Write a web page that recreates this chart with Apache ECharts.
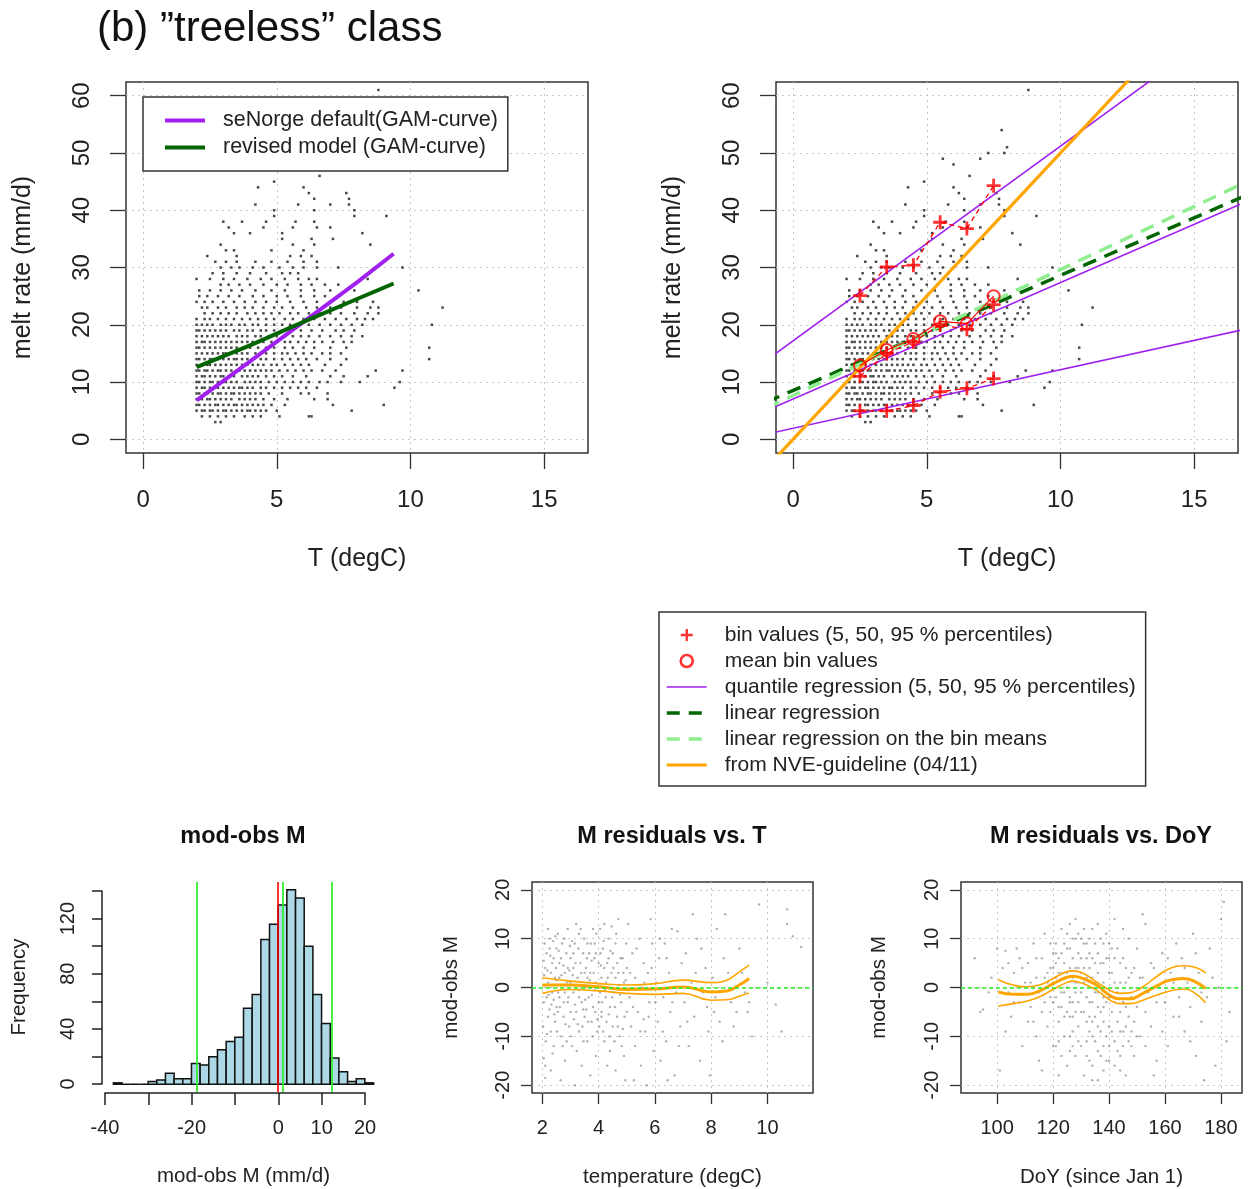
<!DOCTYPE html>
<html>
<head>
<meta charset="utf-8">
<script src="https://cdn.jsdelivr.net/npm/echarts@6/dist/echarts.min.js"></script>
<style>
  html, body { margin: 0; padding: 0; background: #fff; }
  #main { width: 1253px; height: 1189px; }
</style>
</head>
<body>
<div id="main"></div>
<script>
// observed melt rate rows (mm/d) and the temperatures seen in each row
const obsMelt = [3, 4, 5, 6, 7, 8, 9, 10, 11, 12, 13, 14, 15, 16, 17, 18, 19, 20, 21, 22, 23, 24, 25, 26, 27, 28, 29, 30, 31,
  32, 33, 34, 35, 36, 37, 38, 39, 40, 41, 42, 43, 44, 45, 46, 48, 49, 50, 51, 54, 61]
const obsTemp = [
  [2.7, 2.9],
  [2.2, 2.5, 2.8, 3.1, 3.4, 3.8, 4.1, 4.4, 5.1, 6.2, 6.3],
  [2.0, 2.2, 2.3, 2.5, 2.6, 2.8, 3.0, 3.1, 3.3, 3.5, 3.7, 3.9, 4.0, 4.2, 4.4, 4.6, 5.0, 7.8],
  [2.0, 2.1, 2.3, 2.5, 2.7, 2.8, 3.0, 3.2, 3.4, 3.5, 3.7, 3.9, 4.1, 4.3, 4.5, 4.8, 5.3, 7.1, 9.0],
  [2.0, 2.2, 2.4, 2.5, 2.7, 2.9, 3.1, 3.3, 3.6, 3.8, 4.0, 4.2, 4.5, 4.9, 5.4, 6.4, 6.9],
  [2.0, 2.1, 2.3, 2.4, 2.6, 2.8, 2.9, 3.1, 3.3, 3.4, 3.6, 3.8, 4.0, 4.2, 4.4, 4.7, 5.2, 5.9, 6.2, 6.9],
  [2.0, 2.2, 2.3, 2.5, 2.7, 2.8, 3.0, 3.2, 3.4, 3.6, 3.7, 3.9, 4.1, 4.4, 4.6, 4.9, 5.2, 5.5, 5.8, 6.1, 6.5, 9.4],
  [2.0, 2.1, 2.3, 2.5, 2.6, 2.8, 3.0, 3.1, 3.3, 3.5, 3.8, 4.0, 4.2, 4.4, 4.7, 5.0, 5.3, 5.6, 5.9, 6.2, 6.6, 6.9, 7.4, 8.1, 9.6],
  [2.0, 2.2, 2.3, 2.5, 2.7, 2.9, 3.0, 3.2, 3.4, 3.7, 3.9, 4.1, 4.3, 4.6, 4.9, 5.2, 5.6, 6.1, 7.0, 7.5, 8.4],
  [2.0, 2.1, 2.3, 2.4, 2.6, 2.8, 2.9, 3.1, 3.3, 3.5, 3.6, 3.8, 4.0, 4.2, 4.4, 4.6, 4.8, 5.1, 5.4, 5.7, 6.0, 6.3, 6.7, 7.2, 8.7, 9.7],
  [2.0, 2.2, 2.4, 2.5, 2.7, 2.9, 3.1, 3.3, 3.5, 3.7, 3.9, 4.1, 4.3, 4.5, 4.8, 5.0, 5.3, 5.6, 5.9, 6.2, 6.8, 7.4],
  [2.0, 2.1, 2.3, 2.5, 2.6, 2.8, 3.0, 3.2, 3.4, 3.5, 3.7, 3.9, 4.1, 4.4, 4.6, 4.9, 5.2, 5.5, 5.8, 6.1, 6.5, 7.0, 7.6, 10.7],
  [2.0, 2.2, 2.4, 2.6, 2.8, 3.0, 3.1, 3.3, 3.5, 3.7, 3.9, 4.2, 4.4, 4.6, 4.9, 5.2, 5.4, 5.7, 6.0, 6.3, 6.7, 7.0, 7.4],
  [2.0, 2.1, 2.3, 2.5, 2.7, 2.9, 3.1, 3.3, 3.5, 3.8, 4.0, 4.3, 4.6, 4.9, 5.3, 5.6, 6.0, 6.4, 7.0, 7.6, 10.7],
  [2.0, 2.2, 2.3, 2.5, 2.7, 2.9, 3.1, 3.3, 3.5, 3.7, 3.9, 4.1, 4.3, 4.5, 4.8, 5.0, 5.3, 5.5, 5.8, 6.1, 6.4, 6.7, 7.1, 7.5, 7.8],
  [2.0, 2.2, 2.4, 2.6, 2.8, 3.0, 3.2, 3.5, 3.7, 3.9, 4.2, 4.4, 4.7, 5.0, 5.3, 5.6, 5.9, 6.2, 6.6, 7.0, 7.4, 7.8, 8.2],
  [2.0, 2.1, 2.3, 2.5, 2.7, 2.9, 3.1, 3.4, 3.6, 3.9, 4.1, 4.4, 4.6, 4.9, 5.2, 5.5, 5.9, 6.3, 6.7, 7.2, 7.5, 7.9],
  [2.0, 2.2, 2.4, 2.6, 2.9, 3.1, 3.3, 3.6, 3.8, 4.1, 4.3, 4.6, 4.9, 5.2, 5.5, 5.8, 6.2, 6.6, 7.0, 7.4, 7.8, 8.2, 10.8],
  [2.0, 2.3, 2.5, 2.8, 3.1, 3.4, 3.7, 4.0, 4.3, 4.6, 4.9, 5.3, 5.6, 6.0, 6.4, 6.8, 7.2, 7.6, 8.0, 8.3, 8.6],
  [2.3, 2.6, 2.9, 3.2, 3.5, 3.9, 4.2, 4.5, 4.8, 5.1, 5.5, 5.8, 6.2, 6.6, 7.0, 7.4, 7.9, 8.4, 8.8],
  [2.2, 2.4, 2.8, 3.1, 3.5, 3.8, 4.1, 4.5, 4.9, 5.2, 5.6, 6.1, 6.5, 7.0, 7.4, 8.0, 8.5, 8.8, 11.2],
  [2.0, 2.3, 2.6, 3.0, 3.4, 3.8, 4.2, 4.6, 5.0, 5.5, 6.0, 6.5, 7.0, 7.5, 8.0, 8.6],
  [2.1, 2.4, 2.8, 3.2, 3.6, 4.1, 4.5, 5.0, 5.4, 5.9, 6.4, 6.8, 7.3],
  [2.1, 2.5, 2.9, 3.3, 3.7, 4.2, 4.8, 5.3, 5.9, 6.4, 7.0, 7.9, 10.3],
  [2.9, 3.2, 3.6, 4.0, 4.5, 5.0, 5.4, 5.9, 6.3, 6.8, 7.3],
  [2.0, 2.5, 3.0, 3.4, 3.9, 4.4, 4.8, 5.3, 5.8, 6.2, 6.5, 8.4],
  [2.6, 3.0, 3.5, 4.0, 4.6, 5.2, 5.5, 5.8],
  [2.9, 3.3, 3.6, 4.1, 4.5, 5.1, 5.6, 6.0, 6.5, 7.3, 9.7],
  [2.7, 3.1, 3.5, 4.2, 4.8, 5.4, 6.0, 6.5],
  [2.4, 3.5, 5.5, 5.9, 6.3],
  [3.1, 3.4, 4.8, 6.0],
  [2.9, 5.6, 6.4, 8.5],
  [5.2, 6.3, 7.1],
  [3.4, 4.0, 5.2, 8.2],
  [3.2, 4.5, 5.6, 6.5, 7.0],
  [3.0, 3.7, 4.6, 5.7, 6.4],
  [4.9, 7.9, 9.1],
  [4.9, 6.4, 7.9],
  [4.2, 5.8, 7.0, 7.7],
  [6.4, 7.7],
  [6.2, 7.6],
  [4.3, 6.0],
  [4.9],
  [6.6],
  [6.0],
  [5.6, 7.0],
  [7.3, 7.9],
  [8.0],
  [7.8],
  [8.8]
]

// GAM curves, top left
const gamT = [2.0, 4.0, 6.0, 8.0, 9.37]
const gamDefault = [6.8, 13.6, 20.5, 27.4, 32.4]
const gamRevised = [12.6, 16.4, 20.5, 24.5, 27.2]

// straight lines, top right (values at T = -1 and T = 17)
const lineT = [-1, 17]
const q05Line = [0.9, 19.3]
const q50Line = [5.0, 41.6]
const q95Line = [13.8, 75.0]
const lmLine = [6.5, 42.7]
const lmBinLine = [5.45, 45.05]
const nveLine = [-5, 85]

// bin statistics
const binT = [2.5, 3.5, 4.5, 5.5, 6.5, 7.5]
const bin05 = [4.95, 4.95, 5.9, 8.3, 8.9, 10.6]
const bin50 = [11.0, 15.0, 17.0, 20.0, 19.2, 23.5]
const bin95 = [25.1, 30.1, 30.4, 37.9, 36.8, 44.3]
const binMean = [12.9, 15.6, 17.5, 20.6, 20.2, 25.0]

// histogram of mod-obs M
const histBreaks = [-38, -36, -34, -32, -30, -28, -26, -24, -22, -20, -18, -16, -14, -12, -10, -8, -6, -4, -2, 0,
  2, 4, 6, 8, 10, 12, 14, 16, 18, 20, 22]
const histCounts = [1, 0, 0, 0, 2, 3, 8, 4, 4, 15, 14, 20, 25, 31, 34, 55, 65, 105, 116, 130,
  141, 135, 100, 65, 44, 19, 9, 2, 4, 1]
const histRed = [0]
const histGreen = [-18.7, 1.0, 12.3]

// residuals vs temperature
const resT = [2.0, 3.0, 4.0, 5.0, 6.0, 7.0, 8.0, 8.55, 9.0, 9.35]
const resFit = [0.5, 0.5, 0.15, -0.4, -0.3, 0.1, -0.9, -0.7, 0.5, 1.85]
const resUpper = [2.0, 1.3, 0.8, 0.5, 0.8, 1.5, 1.0, 1.5, 3.2, 4.6]
const resLower = [-1.2, -0.4, -0.7, -1.2, -1.4, -1.2, -2.6, -2.5, -1.8, -1.1]
const resTempPts = [
  [2.05, -14.5], [2.1, -16], [2.05, -3], [2.1, 4], [2.15, 7], [2.2, 1], [2.2, -6], [2.25, 10], [2.3, -9], [2.3, 3],
  [2.35, -1], [2.4, 6], [2.4, -12], [2.45, 2], [2.5, -4], [2.5, 8], [2.1, -18.5], [2.3, -17], [2.2, 12], [2.45, -7],
  [2.55, 11], [2.6, -2], [2.6, 5], [2.65, -10], [2.7, 0.5], [2.7, 9], [2.75, -6], [2.8, 3], [2.8, -15], [2.85, 7],
  [2.9, -3], [2.9, 12], [2.95, -8], [3.0, 1], [3.0, 6], [2.65, -19], [2.75, 4.5], [2.55, -5],
  [3.05, -12], [3.1, 4], [3.1, -1], [3.15, 9], [3.2, -5], [3.25, 2], [3.3, 11], [3.3, -9], [3.35, 5], [3.4, -3],
  [3.4, -16], [3.45, 7], [3.5, 0], [3.5, -6], [3.2, 13], [3.15, -20],
  [3.55, 4], [3.6, -11], [3.6, 9], [3.65, -2], [3.7, 3], [3.75, -7], [3.8, 12], [3.8, -4], [3.85, 6], [3.9, -14],
  [3.9, 1], [3.95, -9], [4.0, 5], [4.0, -3], [3.7, -18], [3.85, -0.5],
  [4.05, 12], [4.1, -6], [4.1, 2], [4.15, 8], [4.2, -11], [4.25, -2], [4.3, 5], [4.3, -16], [4.35, 10], [4.4, -4],
  [4.45, 3], [4.5, -8], [4.5, 7], [4.2, 13], [4.4, -13],
  [4.55, -1], [4.6, 9], [4.65, -6], [4.7, 14], [4.7, 3], [4.75, -10], [4.8, -3], [4.85, 6], [4.9, -14], [4.9, 1],
  [4.95, -19], [5.0, -5], [5.0, 4], [4.6, -17],
  [5.05, 13], [5.1, -2], [5.15, -8], [5.2, 7], [5.3, -12], [5.3, 2], [5.4, -5], [5.45, 10], [5.5, -16], [5.55, 0],
  [5.6, 5], [5.65, -9], [5.7, -20], [5.75, 3], [5.8, -3], [5.9, 9], [5.95, -13], [5.25, -19], [5.85, 14], [5.6, -6.5],
  [6.05, 1], [6.1, -7], [6.15, 6], [6.2, -15], [6.3, -2], [6.35, 9], [6.4, -11], [6.5, 3], [6.55, -5], [6.6, 12],
  [6.7, -18], [6.75, -1], [6.8, 11.5], [6.9, -8], [6.95, 5], [6.45, -19],
  [7.05, -3], [7.1, 7], [7.2, -12], [7.3, 1], [7.4, -6], [7.5, 10], [7.6, -15], [7.7, -1], [7.8, 4], [7.9, -9],
  [7.95, -18], [7.35, 15],
  [8.05, 2], [8.1, -5], [8.2, 12], [8.3, -7], [8.4, -11], [8.6, 3], [8.7, -3], [8.9, -5], [9.0, 8], [9.2, -1],
  [9.3, -5], [9.45, -10], [8.5, 15],
  [9.7, 17], [10.3, -3.5], [10.5, -9], [10.7, 16], [10.7, 13], [11.2, 8.3], [10.0, 1], [10.9, 10.5],
  [2.15, -2], [2.35, 5], [2.6, 2], [2.9, 4], [3.1, 7], [3.3, -2], [3.6, 2], [3.9, 7], [4.2, 4], [4.4, 0],
  [2.25, -4.5], [2.5, 1.5], [2.8, -1], [3.2, 0.5], [3.45, -4.5], [3.75, 5.5], [4.05, -1], [4.35, 6], [4.6, 2], [2.05, 5.5],
  [2.4, -2.5], [3.0, -5], [3.5, 3], [4.1, -5],
  [2.02, -8], [2.08, 9], [2.12, -11], [2.18, 3.5], [2.22, -1.5], [2.28, 6.5], [2.32, -3.5], [2.38, 9.5], [2.42, -5.5], [2.48, 4],
  [2.52, -9], [2.58, 7.5], [2.62, -4], [2.68, 2.5], [2.72, -12], [2.78, 10], [2.82, -7.5], [2.88, 1], [2.92, -2], [2.98, 8.5],
  [3.02, -10], [3.08, 2.5], [3.12, -6.5], [3.18, 5], [3.22, -13], [3.28, 8], [3.32, -0.5], [3.38, 3], [3.42, -8], [3.48, 10],
  [3.52, -2.5], [3.58, 6], [3.62, -7], [3.68, 1.5], [3.72, 9], [3.78, -10], [3.82, 3], [3.88, -5], [3.92, 11], [3.98, 0],
  [4.02, -8], [4.08, 4.5], [4.12, -3], [4.18, 9.5], [4.22, -0.5], [4.28, -7], [4.32, 2], [4.38, -10], [4.42, 7.5], [4.48, -2],
  [4.52, 4], [4.58, -4], [4.62, 11], [4.68, -8], [4.72, 0.5], [4.78, 6], [4.82, -12], [4.88, 3], [4.92, -6], [4.98, 9],
  [5.12, 3], [5.22, -4], [5.35, 8], [5.48, -9], [5.62, 1], [5.78, -6], [5.88, 4], [6.02, -3], [6.18, 10], [6.28, -9],
  [6.42, 6], [6.62, -3], [6.85, -12], [7.15, -7], [7.45, 3], [7.65, 8], [7.85, -4], [8.15, -2], [8.45, 6], [8.8, -8],
  [9.1, 3], [9.35, -3],
  [2.06, 2.5], [2.16, -9.5], [2.26, 8], [2.36, -13.5], [2.46, 10.5], [2.56, -1], [2.66, 6], [2.76, -3], [2.86, -11], [2.96, 3.5],
  [3.06, 9.5], [3.16, -3.5], [3.26, -7.5], [3.36, 12], [3.46, -11], [3.56, -4.5], [3.66, 7], [3.76, -1.5], [3.86, 9], [3.96, -6.5],
  [4.06, 7], [4.16, -9], [4.26, 1], [4.36, -5.5], [4.46, 12.5], [4.56, -11], [4.66, 5], [4.76, -1.5], [4.86, -8.5], [4.96, 1.5]
]

// residuals vs day of year
const doy = [100.4, 105.7, 110.5, 115.2, 120, 124.8, 127.1, 130.7, 135.5, 140.2, 143.8, 147.4, 152.1, 156.9, 161.7, 166.4, 170, 174.5]
const doyFit = [-0.9, -1.4, -1.4, -0.7, 0.8, 2.05, 2.3, 1.85, 0.5, -1.6, -2.3, -2.3, -1.2, 0.3, 1.5, 1.85, 1.4, -0.2]
const doyUpper = [1.6, 0.5, 0.15, 0.5, 1.85, 3.2, 3.4, 2.9, 1.15, -0.55, -1.2, -1.1, 0.15, 2.2, 3.9, 4.45, 4.25, 3.0]
const doyLower = [-3.8, -3.3, -2.8, -1.9, -0.4, 1.0, 1.3, 0.8, -0.55, -2.5, -3.3, -3.3, -2.6, -1.6, -0.7, -0.35, -0.9, -3.1]
const resDoyPts = [
  [92, 6], [94, -5], [95, -4.5], [98, 2], [100, 8], [101, -17], [102, 4], [103, 7.5], [104, -1], [105, -6],
  [106, 3], [107, 8], [108, -3], [109, -12], [110, 1], [103, -9], [97, -1], [108, 6],
  [111, 5], [112, -4], [113, 9], [113, -7], [114, 2], [115, -1], [115, -15], [116, 6], [117, -3], [117, 11],
  [118, 1], [118, -8], [119, 4], [119, -5], [120, 7], [120, -12], [116, -17], [114, -10],
  [121, -2], [121, 9], [122, 3], [122, -7], [123, 12], [123, -4], [124, 5], [124, -10], [125, 0], [125, 8],
  [126, -6], [126, 13], [127, 2], [127, -3], [128, 10], [128, -14], [129, 4], [129, -8], [130, 6], [130, -1],
  [122, -18], [125, -16], [128, 14], [126, 4], [124, -1], [129, 11],
  [131, -5], [131, 9], [132, 2], [132, -11], [133, 7], [133, -3], [134, 12], [134, -7], [135, -1], [135, 5],
  [136, -13], [136, 3], [137, -9], [137, 10], [138, -4], [138, 1], [139, -15], [139, 6], [140, -2], [140, -8],
  [131, -18], [134, -19], [136, 13], [138, -12], [133, -15], [140, 9],
  [141, -5], [141, 3], [142, -11], [142, 14], [143, -1], [143, -7], [144, 5], [144, -14], [145, -3], [145, -9],
  [146, 1], [146, -18], [147, -6], [147, 10], [148, -2], [148, -12], [149, 4], [149, -7], [150, -4], [150, 8],
  [142, -16], [145, 12],
  [151, -10], [152, 2], [153, -5], [153, 13], [154, -1], [155, -8], [156, 4], [157, -15], [158, 0], [159, 7],
  [160, -3], [161, -12], [162, 3], [163, -6], [164, 9], [165, -2], [152, 15], [156, -18],
  [166, 6], [167, -9], [168, 1], [169, -4], [170, 11], [171, -14], [172, 3], [173, -7], [175, -2], [176, 8],
  [178, -16], [180, 14], [181, 17.5], [182, -11], [183, -5], [174, -19], [179, 0],
  [121, 2], [123, -1], [125, 3], [127, 6], [129, -3], [131, 1], [133, 4], [135, -6], [137, 0], [139, -3],
  [126, -2], [128, 1], [130, 3], [132, -2], [134, 2], [136, -4], [138, -7], [132, 6], [127, -9], [135, 9],
  [118, 3], [119, 9], [120, -3], [121, 5], [122, -11], [123, 7], [124, -6], [125, 11], [126, -10], [127, -6],
  [128, -5], [129, 7], [130, -12], [131, 4], [132, -7], [133, 10], [134, -3], [135, 1], [136, -8], [137, 5],
  [138, 9], [139, -10], [140, 3], [141, -9], [142, -3], [143, 8], [144, -5], [145, -12], [146, -4], [147, 2],
  [148, -9], [149, -14], [120, 1], [122, 6], [124, 9], [126, 8], [128, -1], [130, 10], [132, -14], [134, -10],
  [136, -1], [138, 5], [140, -12], [142, 6], [144, 1], [146, -8], [148, 3], [112, 1], [114, 6], [116, -5],
  [117, 2], [119, -2], [111, -7], [109, 4], [150, -10], [151, 2], [153, -12], [155, 5], [157, -3], [159, -9],
  [161, 6], [163, 1], [165, -6], [167, 4], [169, -11], [171, 7], [173, -1], [177, 2], [104, 5], [106, -3],
  [121, -12], [123, -14], [125, -5], [127, 10], [129, -11], [131, 12], [133, -9], [135, -11], [137, -14], [139, 11],
  [141, 8], [143, -13], [145, 6], [147, -11], [126, -13], [134, -16], [138, -17], [140, -15], [136, -19], [144, -17],
  [120, 4], [122, -4], [124, 2], [126, -3], [128, 4], [130, -5], [132, 9], [134, 6], [136, 7], [138, -2],
  [140, 6], [142, 1], [144, -9], [146, 4], [121, 7], [123, 3], [127, -12], [129, 1], [133, -6], [137, -5]
]

const FONT = 'Liberation Sans, Arial, sans-serif'
const PURPLE = '#a020f0'
const ORANGE = '#ffa500'
const DKGREEN = '#006400'
const LTGREEN = '#90ee90'

const obsPts = obsMelt.flatMap((m, i) => obsTemp[i].map(t => [t, m]))
const zip = (xs, ys) => xs.map((x, i) => [x, ys[i]])

function rAxis (gridIndex, min, max, ticks, o) {
  return {
    type: 'value',
    gridIndex: gridIndex,
    min: min,
    max: max,
    name: o.name,
    nameLocation: 'middle',
    nameGap: o.nameGap,
    nameRotate: o.rotate ? 90 : 0,
    nameTextStyle: { fontSize: o.nameSize, color: '#222', fontFamily: FONT },
    axisLine: { show: false, onZero: false },
    axisTick: { show: true, length: o.tick, customValues: ticks, lineStyle: { color: '#333', width: 1.3 } },
    axisLabel: {
      customValues: ticks, margin: o.margin, fontSize: o.labelSize, color: '#222',
      fontFamily: FONT, rotate: o.rotate ? 90 : 0
    },
    splitLine: { show: true, lineStyle: { color: '#c8c8c8', type: [2, 4], width: 1 } }
  }
}
function hiddenAxis (gridIndex, min, max, o) {
  o = o || {}
  return {
    type: 'value', gridIndex: gridIndex, min: min, max: max,
    name: o.name, nameLocation: 'middle', nameGap: o.nameGap, nameRotate: o.rotate ? 90 : 0,
    nameTextStyle: { fontSize: 20.5, color: '#222', fontFamily: FONT },
    axisLine: { show: false, onZero: false }, axisTick: { show: false }, axisLabel: { show: false }, splitLine: { show: false }
  }
}
const box = { show: true, borderColor: '#333', borderWidth: 1.5, backgroundColor: 'transparent' }

const tempTicks = [0, 5, 10, 15]
const meltTicks = [0, 10, 20, 30, 40, 50, 60]
const resTicks = [-20, -10, 0, 10, 20]

function plainLine (name, xi, data, color, width, dash, smooth) {
  return {
    type: 'line', name: name, xAxisIndex: xi, yAxisIndex: xi, data: data,
    symbol: 'none', smooth: smooth || false, clip: true, z: 3,
    lineStyle: { color: color, width: width, type: dash || 'solid' },
    itemStyle: { color: color }
  }
}
// legend entry for a line series: hide the marker the legend would draw on it
const lineEntry = (name, width, dash) => ({
  name: name,
  itemStyle: { opacity: 0 },
  lineStyle: { width: width, type: dash || 'solid' }
})

const PLUS = 'path://M4,0H6V4H10V6H6V10H4V6H0V4H4Z'
const titleStyle = { fontSize: 23.5, fontWeight: 'bold', color: '#111', fontFamily: FONT }

const option = {
  animation: false,
  textStyle: { fontFamily: FONT },
  title: [
    { text: '(b) \u201dtreeless\u201d class', left: 92, top: 3, textStyle: { fontSize: 42, fontWeight: 'normal', color: '#111', fontFamily: FONT } },
    { text: 'mod-obs M', left: 238, top: 820, textAlign: 'center', textStyle: titleStyle },
    { text: 'M residuals vs. T', left: 667, top: 820, textAlign: 'center', textStyle: titleStyle },
    { text: 'M residuals vs. DoY', left: 1096, top: 820, textAlign: 'center', textStyle: titleStyle }
  ],
  legend: [
    {
      data: [lineEntry('seNorge default(GAM-curve)', 4), lineEntry('revised model (GAM-curve)', 4)],
      orient: 'vertical', left: 143, top: 97, selectedMode: false,
      backgroundColor: '#fff', borderColor: '#333', borderWidth: 1.5, borderRadius: 0,
      padding: [12, 10, 12, 20], itemGap: 4, itemWidth: 40, itemHeight: 14,
      textStyle: { fontSize: 21.5, lineHeight: 23, color: '#222', fontFamily: FONT, padding: [0, 0, 0, 13] }
    },
    {
      data: [
        'bin values (5, 50, 95 % percentiles)',
        { name: 'mean bin values', itemStyle: { borderWidth: 2.6 } },
        lineEntry('quantile regression (5, 50, 95 % percentiles)', 1.6),
        lineEntry('linear regression', 3.5, [13, 9]),
        lineEntry('linear regression on the bin means', 3.5, [13, 9]),
        lineEntry('from NVE-guideline (04/11)', 3.2)
      ],
      orient: 'vertical', left: 659, top: 612, selectedMode: false,
      backgroundColor: '#fff', borderColor: '#333', borderWidth: 1.5, borderRadius: 0,
      padding: [12, 10, 10, 6], itemGap: 4, itemWidth: 40, itemHeight: 12,
      textStyle: { fontSize: 21, lineHeight: 22, color: '#222', fontFamily: FONT, padding: [0, 0, 0, 13] }
    }
  ],
  grid: [
    Object.assign({ left: 126, top: 82, width: 462, height: 371 }, box),
    Object.assign({ left: 776, top: 82, width: 462, height: 371 }, box),
    { left: 103, top: 882, width: 281, height: 210 },
    { left: 105, top: 1083, width: 260, height: 10 },
    { left: 102, top: 891, width: 10, height: 193 },
    Object.assign({ left: 532, top: 882, width: 281, height: 211 }, box),
    Object.assign({ left: 961, top: 882, width: 281, height: 211 }, box)
  ],
  xAxis: [
    rAxis(0, -0.64, 16.64, tempTicks, { name: 'T (degC)', nameGap: 94, nameSize: 25, tick: 16, margin: 35, labelSize: 24 }),
    rAxis(1, -0.64, 16.64, tempTicks, { name: 'T (degC)', nameGap: 94, nameSize: 25, tick: 16, margin: 35, labelSize: 24 }),
    hiddenAxis(2, -40.4, 24.4, { name: 'mod-obs M (mm/d)', nameGap: 74 }),
    {
      type: 'value', gridIndex: 3, min: -40, max: 20, interval: 10, position: 'bottom',
      axisLine: { show: true, onZero: false, lineStyle: { color: '#222', width: 1.5 } },
      axisTick: { show: true, length: 12, lineStyle: { color: '#222', width: 1.5 } },
      axisLabel: { customValues: [-40, -20, 0, 10, 20], margin: 25, fontSize: 20, color: '#222', fontFamily: FONT },
      splitLine: { show: false }
    },
    hiddenAxis(4, 0, 1),
    rAxis(5, 1.63, 11.62, [2, 4, 6, 8, 10], { name: 'temperature (degC)', nameGap: 74, nameSize: 20.5, tick: 11, margin: 25, labelSize: 20 }),
    rAxis(6, 87.1, 187.5, [100, 120, 140, 160, 180], { name: 'DoY (since Jan 1)', nameGap: 74, nameSize: 20.5, tick: 11, margin: 25, labelSize: 20 })
  ],
  yAxis: [
    rAxis(0, -2.4, 62.4, meltTicks, { name: 'melt rate (mm/d)', nameGap: 90, nameSize: 25, tick: 16, margin: 32, labelSize: 24, rotate: true }),
    rAxis(1, -2.4, 62.4, meltTicks, { name: 'melt rate (mm/d)', nameGap: 90, nameSize: 25, tick: 16, margin: 32, labelSize: 24, rotate: true }),
    hiddenAxis(2, -5.64, 146.6, { name: 'Frequency', nameGap: 73, rotate: true }),
    hiddenAxis(3, 0, 1),
    {
      type: 'value', gridIndex: 4, min: 0, max: 140, interval: 20,
      axisLine: { show: true, onZero: false, lineStyle: { color: '#222', width: 1.5 } },
      axisTick: { show: true, length: 10, lineStyle: { color: '#222', width: 1.5 } },
      axisLabel: { customValues: [0, 40, 80, 120], margin: 24, fontSize: 20, color: '#222', fontFamily: FONT, rotate: 90 },
      splitLine: { show: false }
    },
    rAxis(5, -21.6, 21.6, resTicks, { name: 'mod-obs M', nameGap: 70, nameSize: 20.5, tick: 11, margin: 19, labelSize: 20, rotate: true }),
    rAxis(6, -21.6, 21.6, resTicks, { name: 'mod-obs M', nameGap: 71, nameSize: 20.5, tick: 11, margin: 19, labelSize: 20, rotate: true })
  ],
  series: [
    // top left
    {
      type: 'scatter', name: 'obs left', xAxisIndex: 0, yAxisIndex: 0, data: obsPts,
      symbol: 'rect', symbolSize: 2.5, itemStyle: { color: '#1a1a1a' }, silent: true
    },
    plainLine('seNorge default(GAM-curve)', 0, zip(gamT, gamDefault), PURPLE, 4),
    plainLine('revised model (GAM-curve)', 0, zip(gamT, gamRevised), DKGREEN, 4),
    // top right
    {
      type: 'scatter', name: 'obs right', xAxisIndex: 1, yAxisIndex: 1, data: obsPts,
      symbol: 'rect', symbolSize: 2.5, itemStyle: { color: '#1a1a1a' }, silent: true
    },
    plainLine('quantile regression (5, 50, 95 % percentiles)', 1, zip(lineT, q05Line), PURPLE, 1.6),
    plainLine('quantile regression (5, 50, 95 % percentiles)', 1, zip(lineT, q50Line), PURPLE, 1.6),
    plainLine('quantile regression (5, 50, 95 % percentiles)', 1, zip(lineT, q95Line), PURPLE, 1.6),
    plainLine('linear regression', 1, zip(lineT, lmLine), DKGREEN, 3.5, [14, 9]),
    plainLine('linear regression on the bin means', 1, zip(lineT, lmBinLine), LTGREEN, 3.5, [14, 9]),
    plainLine('from NVE-guideline (04/11)', 1, zip(lineT, nveLine), ORANGE, 3.2),
    plainLine('p05 path', 1, zip(binT, bin05), '#ff0000', 1.3, [5, 4]),
    plainLine('p50 path', 1, zip(binT, bin50), '#ff0000', 1.3, [5, 4]),
    plainLine('p95 path', 1, zip(binT, bin95), '#ff0000', 1.3, [5, 4]),
    plainLine('mean path', 1, zip(binT, binMean), '#ff0000', 1.2),
    {
      type: 'scatter', name: 'bin values (5, 50, 95 % percentiles)', xAxisIndex: 1, yAxisIndex: 1, z: 4,
      data: zip(binT, bin05).concat(zip(binT, bin50), zip(binT, bin95)),
      symbol: PLUS, symbolSize: 14, itemStyle: { color: '#ff0000' }
    },
    {
      type: 'scatter', name: 'mean bin values', xAxisIndex: 1, yAxisIndex: 1, z: 4,
      data: zip(binT, binMean),
      symbol: 'circle', symbolSize: 12,
      itemStyle: { color: 'rgba(255,255,255,0)', borderColor: '#ff0000', borderWidth: 2 }
    },
    // histogram
    {
      type: 'custom', name: 'hist', xAxisIndex: 2, yAxisIndex: 2,
      data: histCounts.map((c, i) => [histBreaks[i], histBreaks[i + 1], c]),
      encode: { x: [0, 1], y: 2 },
      renderItem: function (params, api) {
        const p0 = api.coord([api.value(0), api.value(2)])
        const p1 = api.coord([api.value(1), 0])
        return {
          type: 'rect',
          shape: { x: p0[0], y: p0[1], width: p1[0] - p0[0], height: p1[1] - p0[1] },
          style: { fill: '#add8e6', stroke: '#111', lineWidth: 1.5 }
        }
      },
      markLine: {
        silent: true, symbol: ['none', 'none'], label: { show: false },
        data: histRed.map(v => ({ xAxis: v, lineStyle: { color: '#ff0000', width: 1.6, type: 'solid' } }))
          .concat(histGreen.map(v => ({ xAxis: v, lineStyle: { color: '#33ee33', width: 1.8, type: 'solid' } })))
      }
    },
    // residuals vs T
    {
      type: 'scatter', name: 'res T', xAxisIndex: 5, yAxisIndex: 5, data: resTempPts,
      symbolSize: 2.4, itemStyle: { color: 'rgba(90,90,90,0.6)' }, silent: true,
      markLine: {
        silent: true, symbol: ['none', 'none'], label: { show: false },
        data: [{ yAxis: 0 }], lineStyle: { color: '#22ee22', width: 1.6, type: [4, 3] }
      }
    },
    plainLine('res T upper', 5, zip(resT, resUpper), ORANGE, 1.6, null, true),
    plainLine('res T lower', 5, zip(resT, resLower), ORANGE, 1.6, null, true),
    plainLine('res T fit', 5, zip(resT, resFit), ORANGE, 3, null, true),
    // residuals vs DoY
    {
      type: 'scatter', name: 'res DoY', xAxisIndex: 6, yAxisIndex: 6, data: resDoyPts,
      symbolSize: 2.4, itemStyle: { color: 'rgba(90,90,90,0.6)' }, silent: true,
      markLine: {
        silent: true, symbol: ['none', 'none'], label: { show: false },
        data: [{ yAxis: 0 }], lineStyle: { color: '#22ee22', width: 1.6, type: [4, 3] }
      }
    },
    plainLine('res DoY upper', 6, zip(doy, doyUpper), ORANGE, 1.6, null, true),
    plainLine('res DoY lower', 6, zip(doy, doyLower), ORANGE, 1.6, null, true),
    plainLine('res DoY fit', 6, zip(doy, doyFit), ORANGE, 3, null, true)
  ]
}

const chart = echarts.init(document.getElementById('main'))
chart.setOption(option)
</script>
</body>
</html>
